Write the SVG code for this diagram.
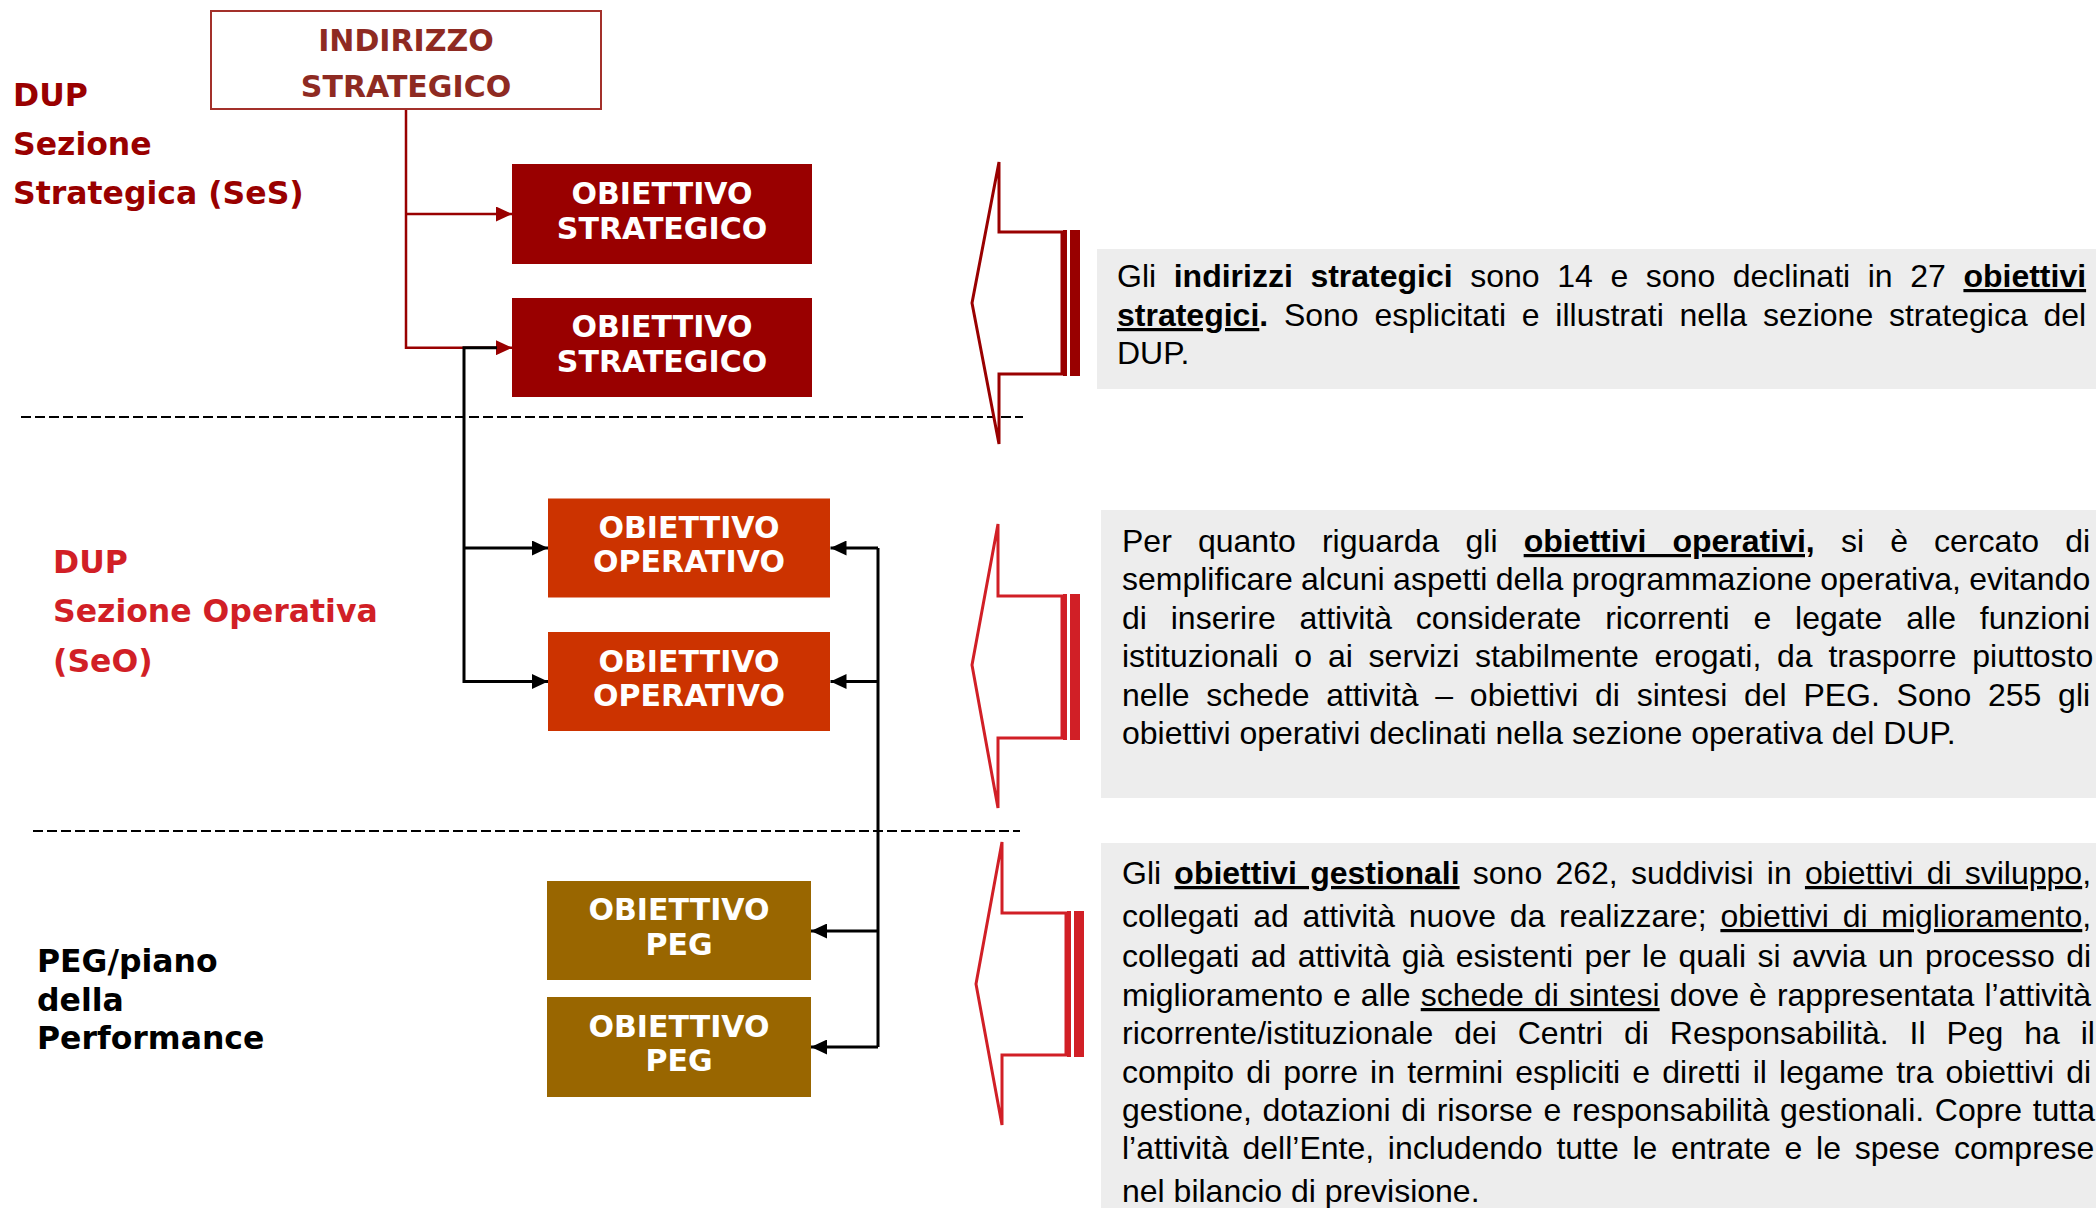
<svg xmlns="http://www.w3.org/2000/svg" width="2096" height="1208" viewBox="0 0 2096 1208">
<style>
.lbl{font-family:"DejaVu Sans",Verdana,sans-serif;font-weight:bold;font-size:31.5px}
.bx{font-family:"DejaVu Sans",Verdana,sans-serif;font-weight:bold;font-size:30px;fill:#fff;text-anchor:middle}
.body{font-family:"Liberation Sans",Arial,sans-serif;font-size:32px;fill:#000}
.b{font-weight:bold}
.u{text-decoration:underline}
.dash{stroke:#000;stroke-width:2;stroke-dasharray:10 4;fill:none}
.red{stroke:#990000;stroke-width:2.5;fill:none}
.blk{stroke:#000;stroke-width:3;fill:none}
.callA{fill:#fff;stroke:#990000;stroke-width:3;stroke-linejoin:miter}
.callB{fill:#fff;stroke:#D11F26;stroke-width:3;stroke-linejoin:miter}
</style>
<defs>
<marker id="ar" viewBox="0 0 16 15" refX="16" refY="7.5" markerWidth="16" markerHeight="15" markerUnits="userSpaceOnUse" orient="auto"><path d="M0,0 L16,7.5 L0,15 Z" fill="#990000"/></marker>
<marker id="ab" viewBox="0 0 16 15" refX="16" refY="7.5" markerWidth="16" markerHeight="15" markerUnits="userSpaceOnUse" orient="auto"><path d="M0,0 L16,7.5 L0,15 Z" fill="#000"/></marker>
</defs>
<rect width="2096" height="1208" fill="#fff"/>

<g id="separators">
<line class="dash" x1="21" y1="417" x2="1023" y2="417"/>
<line class="dash" x1="33" y1="831" x2="1020" y2="831"/>
</g>

<g id="label-ses" class="lbl" fill="#990000">
<text x="13" y="105.5">DUP</text>
<text x="13" y="154.5">Sezione</text>
<text x="13" y="203.5">Strategica (SeS)</text>
</g>
<g id="label-seo" class="lbl" fill="#D11F26">
<text x="53" y="573">DUP</text>
<text x="53" y="622">Sezione Operativa</text>
<text x="53" y="672">(SeO)</text>
</g>
<g id="label-peg" class="lbl" fill="#000">
<text x="37" y="972">PEG/piano</text>
<text x="37" y="1011">della</text>
<text x="37" y="1049">Performance</text>
</g>

<g id="connectors">
<path class="red" d="M406,109 V347.7 H512" marker-end="url(#ar)"/>
<path class="red" d="M406,214 H512" marker-end="url(#ar)"/>
<path class="blk" d="M497,347.7 H464 V681.5 H548" marker-end="url(#ab)"/>
<path class="blk" d="M464,548 H548" marker-end="url(#ab)"/>
<path class="blk" d="M878,548 V1047"/>
<path class="blk" d="M878,548 H830.5" marker-end="url(#ab)"/>
<path class="blk" d="M878,681.5 H830.5" marker-end="url(#ab)"/>
<path class="blk" d="M878,931 H811" marker-end="url(#ab)"/>
<path class="blk" d="M878,1047 H811" marker-end="url(#ab)"/>
</g>

<g id="indirizzo-strategico">
<rect x="211" y="11" width="390" height="98" fill="#fff" stroke="#A3302A" stroke-width="2"/>
<text class="bx" x="406" y="51" style="fill:#8E2A22">INDIRIZZO</text>
<text class="bx" x="406" y="97" style="fill:#8E2A22">STRATEGICO</text>
</g>

<g id="obiettivo-strategico-1">
<rect x="512" y="164" width="300" height="100" fill="#990000"/>
<text class="bx" x="662" y="204">OBIETTIVO</text>
<text class="bx" x="662" y="238.5">STRATEGICO</text>
</g>
<g id="obiettivo-strategico-2">
<rect x="512" y="298" width="300" height="99" fill="#990000"/>
<text class="bx" x="662" y="337">OBIETTIVO</text>
<text class="bx" x="662" y="371.5">STRATEGICO</text>
</g>

<g id="obiettivo-operativo-1">
<rect x="548" y="498.5" width="282" height="99" fill="#CC3300"/>
<text class="bx" x="689" y="538">OBIETTIVO</text>
<text class="bx" x="689" y="572">OPERATIVO</text>
</g>
<g id="obiettivo-operativo-2">
<rect x="548" y="632" width="282" height="99" fill="#CC3300"/>
<text class="bx" x="689" y="671.5">OBIETTIVO</text>
<text class="bx" x="689" y="705.5">OPERATIVO</text>
</g>

<g id="obiettivo-peg-1">
<rect x="547" y="881" width="264" height="99" fill="#996600"/>
<text class="bx" x="679" y="920">OBIETTIVO</text>
<text class="bx" x="679" y="955">PEG</text>
</g>
<g id="obiettivo-peg-2">
<rect x="547" y="997" width="264" height="100" fill="#996600"/>
<text class="bx" x="679" y="1036.5">OBIETTIVO</text>
<text class="bx" x="679" y="1071">PEG</text>
</g>

<g id="callout-1">
<path class="callA" d="M999,162 L972,303 L999,444 L999,374 L1062,374 L1062,232 L999,232 Z"/>
<rect x="1063" y="230" width="4" height="146" fill="#990000"/>
<rect x="1070" y="230" width="10" height="146" fill="#990000"/>
</g>
<g id="callout-2">
<path class="callB" d="M998,524 L972,665 L998,808 L998,738 L1062,738 L1062,596 L998,596 Z"/>
<rect x="1063" y="594" width="4" height="146" fill="#D11F26"/>
<rect x="1070" y="594" width="10" height="146" fill="#D11F26"/>
</g>
<g id="callout-3">
<path class="callB" d="M1002,842 L976,984 L1002,1125 L1002,1055 L1066,1055 L1066,913 L1002,913 Z"/>
<rect x="1067" y="911" width="4" height="146" fill="#D11F26"/>
<rect x="1074" y="911" width="10" height="146" fill="#D11F26"/>
</g>

<g id="note-strategici">
<rect x="1097" y="249" width="999" height="140" fill="#EDEDED"/>
<text class="body" x="1117" y="287" word-spacing="8.69">Gli <tspan class="b">indirizzi strategici</tspan> sono 14 e sono declinati in 27 <tspan class="b u">obiettivi</tspan></text>
<text class="body" x="1117" y="326" word-spacing="6.86"><tspan class="b u">strategici</tspan><tspan class="b">.</tspan> Sono esplicitati e illustrati nella sezione strategica del</text>
<text class="body" x="1117" y="364">DUP.</text>
</g>

<g id="note-operativi">
<rect x="1101" y="510" width="995" height="288" fill="#EDEDED"/>
<text class="body" x="1122" y="552" word-spacing="17.25">Per quanto riguarda gli <tspan class="b u">obiettivi operativi,</tspan> si è cercato di</text>
<text class="body" x="1122" y="590" word-spacing="-0.5">semplificare alcuni aspetti della programmazione operativa, evitando</text>
<text class="body" x="1122" y="628.5" word-spacing="14.96">di inserire attività considerate ricorrenti e legate alle funzioni</text>
<text class="body" x="1122" y="667" word-spacing="6.91">istituzionali o ai servizi stabilmente erogati, da trasporre piuttosto</text>
<text class="body" x="1122" y="705.5" word-spacing="7.8">nelle schede attività – obiettivi di sintesi del PEG. Sono 255 gli</text>
<text class="body" x="1122" y="744">obiettivi operativi declinati nella sezione operativa del DUP.</text>
</g>

<g id="note-gestionali">
<rect x="1101" y="843" width="995" height="365" fill="#EDEDED"/>
<text class="body" x="1122" y="884" word-spacing="4.32">Gli <tspan class="b u">obiettivi gestionali</tspan> sono 262, suddivisi in <tspan class="u">obiettivi di sviluppo</tspan>,</text>
<text class="body" x="1122" y="927" word-spacing="4.86">collegati ad attività nuove da realizzare; <tspan class="u">obiettivi di miglioramento</tspan>,</text>
<text class="body" x="1122" y="967" word-spacing="2.49">collegati ad attività già esistenti per le quali si avvia un processo di</text>
<text class="body" x="1122" y="1006" word-spacing="1.15">miglioramento e alle <tspan class="u">schede di sintesi</tspan> dove è rappresentata l’attività</text>
<text class="body" x="1122" y="1044" word-spacing="12.01">ricorrente/istituzionale dei Centri di Responsabilità. Il Peg ha il</text>
<text class="body" x="1122" y="1083" word-spacing="3.25">compito di porre in termini espliciti e diretti il legame tra obiettivi di</text>
<text class="body" x="1122" y="1121" word-spacing="1.77">gestione, dotazioni di risorse e responsabilità gestionali. Copre tutta</text>
<text class="body" x="1122" y="1159" word-spacing="4.87">l’attività dell’Ente, includendo tutte le entrate e le spese comprese</text>
<text class="body" x="1122" y="1202">nel bilancio di previsione.</text>
</g>
</svg>
